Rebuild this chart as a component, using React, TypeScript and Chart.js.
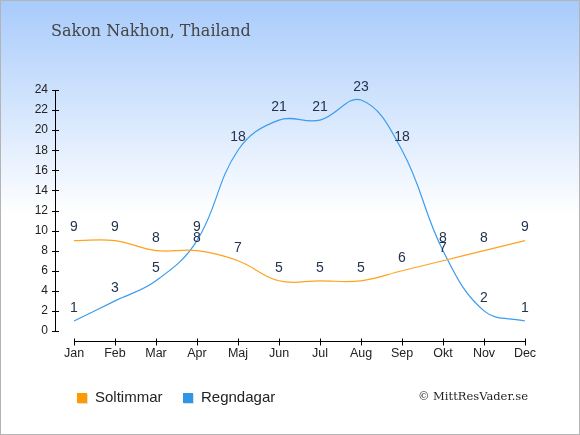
import React, { useEffect, useRef } from "react";
import { Chart, registerables } from "chart.js";

Chart.register(...registerables);

const months = ["Jan", "Feb", "Mar", "Apr", "Maj", "Jun", "Jul", "Aug", "Sep", "Okt", "Nov", "Dec"];
const soltimmar = [9, 9, 8, 8, 7, 5, 5, 5, 6, 7, 8, 9];
const regndagar = [1, 3, 5, 9, 18, 21, 21, 23, 18, 8, 2, 1];
const seriesNames = ["Soltimmar", "Regndagar"];
const titleText = "Sakon Nakhon, Thailand";
const creditText = "© MittResVader.se";

const ORANGE = "#ffa21c";
const BLUE = "#3c9cef";

const decorPlugin = {
  id: "decor",
  beforeDraw(chart: any) {
    const { ctx, width, height } = chart;
    ctx.save();
    const g = ctx.createLinearGradient(0, 0, 0, 215);
    g.addColorStop(0, "#a8cbfb");
    g.addColorStop(1, "#ffffff");
    ctx.fillStyle = "#ffffff";
    ctx.fillRect(0, 0, width, height);
    ctx.fillStyle = g;
    ctx.fillRect(0, 0, width, 215);
    // title
    ctx.fillStyle = "#454545";
    ctx.font = "16px 'DejaVu Serif'";
    ctx.textBaseline = "middle";
    ctx.textAlign = "left";
    ctx.fillText(titleText, 51, 32);
    ctx.restore();
  },
  afterDraw(chart: any) {
    const { ctx, width, height, chartArea } = chart;
    const x = chart.scales.x;
    const y = chart.scales.y;
    ctx.save();
    ctx.strokeStyle = "#000";
    ctx.lineWidth = 1;
    // y axis
    const yTop = y.getPixelForValue(24);
    const yBot = y.getPixelForValue(0);
    ctx.beginPath();
    ctx.moveTo(55.5, Math.round(yTop));
    ctx.lineTo(55.5, Math.round(yBot));
    for (let v = 0; v <= 24; v += 2) {
      const py = Math.round(y.getPixelForValue(v)) + 0.5;
      ctx.moveTo(52, py);
      ctx.lineTo(59, py);
    }
    // x axis
    const axY = Math.round(chartArea.bottom) + 10.5;
    ctx.moveTo(x.getPixelForValue(0), axY);
    ctx.lineTo(x.getPixelForValue(months.length - 1), axY);
    for (let i = 0; i < months.length; i++) {
      const px = Math.round(x.getPixelForValue(i)) + 0.5;
      ctx.moveTo(px, axY - 3);
      ctx.lineTo(px, axY + 4);
    }
    ctx.stroke();

    // legend
    ctx.font = "15px 'Liberation Sans', Arial, sans-serif";
    ctx.textBaseline = "middle";
    ctx.textAlign = "left";
    const legendX = [77, 183];
    chart.data.datasets.forEach((ds: any, i: number) => {
      const lx = legendX[i];
      ctx.fillStyle = "rgba(0,0,0,0.12)";
      ctx.fillRect(lx + 1, 394, 10, 10);
      ctx.fillStyle = i === 0 ? "#ff9900" : "#2f95e6";
      ctx.fillRect(lx, 393, 10, 10);
      ctx.fillStyle = "#222";
      ctx.fillText(ds.label, lx + 18, 398);
    });

    // credit
    ctx.font = "11.5px 'DejaVu Serif'";
    ctx.fillStyle = "#1e1e1e";
    ctx.textAlign = "right";
    ctx.fillText(creditText, 528, 397);

    // border
    ctx.strokeStyle = "#b4b4b4";
    ctx.strokeRect(0.5, 0.5, width - 1, height - 1);
    ctx.restore();
  },
};

const labelPlugin = {
  id: "pointLabels",
  afterDatasetsDraw(chart: any) {
    const { ctx } = chart;
    ctx.save();
    ctx.font = "14px 'Liberation Sans', Arial, sans-serif";
    ctx.fillStyle = "#23324f";
    ctx.textAlign = "center";
    ctx.textBaseline = "middle";
    chart.data.datasets.forEach((ds: any, di: number) => {
      const meta = chart.getDatasetMeta(di);
      meta.data.forEach((pt: any, i: number) => {
        ctx.fillText(String(ds.data[i]), pt.x, pt.y - 13);
      });
    });
    ctx.restore();
  },
};

export default function App() {
  const ref = useRef<HTMLCanvasElement>(null);
  useEffect(() => {
    document.body.style.margin = "0";
    const canvas = ref.current!;
    const chart = new Chart(canvas, {
      type: "line",
      data: {
        labels: months,
        datasets: [
          {
            label: seriesNames[0],
            data: soltimmar,
            borderColor: ORANGE,
            borderWidth: 1.2,
            pointRadius: 0,
            fill: false,
            tension: 0.4,
          },
          {
            label: seriesNames[1],
            data: regndagar,
            borderColor: BLUE,
            borderWidth: 1.2,
            pointRadius: 0,
            fill: false,
            tension: 0.4,
          },
        ],
      },
      options: {
        animation: false,
        responsive: false,
        devicePixelRatio: 1,
        layout: { padding: { left: 0, right: 55, top: 90, bottom: 0 } },
        plugins: {
          legend: { display: false },
          title: { display: false },
          tooltip: { enabled: false },
        },
        scales: {
          x: {
            type: "category",
            offset: false,
            grid: { display: false, drawTicks: false },
            border: { display: false },
            ticks: {
              padding: 15,
              color: "#222",
              font: { family: "'Liberation Sans', Arial, sans-serif", size: 12.5 },
              maxRotation: 0,
              autoSkip: false,
            },
            afterFit(scale: any) {
              scale.height = 104;
            },
          },
          y: {
            min: 0,
            max: 24,
            grid: { display: false, drawTicks: false },
            border: { display: false },
            ticks: {
              stepSize: 2,
              padding: 26,
              color: "#222",
              font: { family: "'Liberation Sans', Arial, sans-serif", size: 12 },
            },
            afterFit(scale: any) {
              scale.width = 74;
            },
          },
        },
      },
      plugins: [decorPlugin, labelPlugin],
    } as any);
    return () => chart.destroy();
  }, []);
  return <canvas ref={ref} width={580} height={435} style={{ display: "block" }} />;
}
